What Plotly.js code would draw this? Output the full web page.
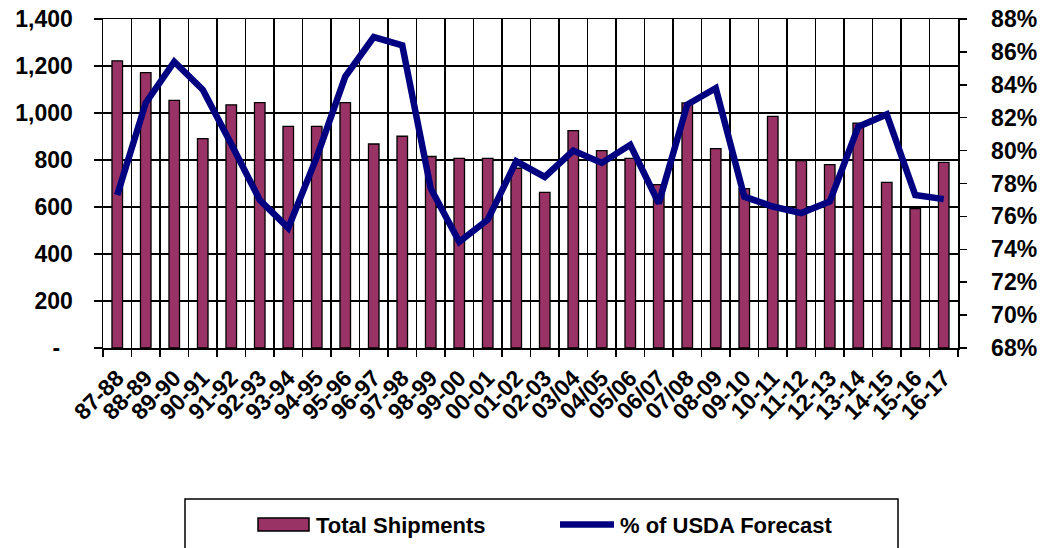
<!DOCTYPE html>
<html>
<head>
<meta charset="utf-8">
<script src="https://cdn.plot.ly/plotly-3.0.1.min.js"></script>
<style>
  html, body { margin: 0; padding: 0; background: #ffffff; }
  #chart { width: 1042px; height: 548px; }
</style>
</head>
<body>
<div id="chart"></div>
<script>
// ---- data ----
const seasons = ["87-88","88-89","89-90","90-91","91-92","92-93","93-94","94-95","95-96","96-97",
                 "97-98","98-99","99-00","00-01","01-02","02-03","03/04","04/05","05/06","06/07",
                 "07/08","08-09","09-10","10-11","11-12","12-13","13-14","14-15","15-16","16-17"];
const totalShipments = [1222,1172,1054,891,1035,1044,943,943,1044,868,
                        901,815,807,807,765,662,925,840,807,695,
                        1043,848,678,986,797,780,957,705,593,790];
const pctOfForecast = [77.3,82.9,85.4,83.7,80.4,77.0,75.3,79.6,84.5,86.9,
                       86.4,77.7,74.45,75.8,79.35,78.4,80.0,79.25,80.35,76.8,
                       82.8,83.8,77.2,76.6,76.2,76.9,81.45,82.2,77.3,77.05];
const leftTickVals = [0,200,400,600,800,1000,1200,1400];
const leftTickText = ["-\u00a0\u00a0","200","400","600","800","1,000","1,200","1,400"];
const rightTickVals = [68,70,72,74,76,78,80,82,84,86,88];
const rightTickText = ["68%","70%","72%","74%","76%","78%","80%","82%","84%","86%","88%"];
const legendNames = ["Total Shipments","% of USDA Forecast"];

// ---- styling ----
const BAR_COLOR = "#993366";
const LINE_COLOR = "#000080";
const FONT = "Liberation Sans, Arial, sans-serif";

const W = 1042, H = 548;
const M = {l: 103, r: 84, t: 19, b: 200};
const PW = W - M.l - M.r, PH = H - M.t - M.b;
const px = x => (x - M.l) / PW;          // pixel -> paper x
const py = y => (H - M.b - y) / PH;      // pixel -> paper y

const traces = [
  {
    type: "bar",
    x: seasons,
    y: totalShipments,
    name: legendNames[0],
    width: 0.37,
    marker: {color: BAR_COLOR, line: {color: "#000000", width: 1.3}},
    yaxis: "y",
    hoverinfo: "x+y"
  },
  {
    type: "scatter",
    mode: "lines",
    x: seasons,
    y: pctOfForecast,
    name: legendNames[1],
    line: {color: LINE_COLOR, width: 6.5},
    yaxis: "y2",
    hoverinfo: "x+y"
  }
];

const tickFont = {family: FONT, size: 23, color: "#000000", weight: "bold"};

const layout = {
  width: W, height: H,
  margin: M,
  paper_bgcolor: "#ffffff",
  plot_bgcolor: "#ffffff",
  showlegend: false,
  font: {family: FONT, color: "#000000"},
  xaxis: {
    type: "category",
    tickson: "boundaries",
    showgrid: true, gridcolor: "#000000", gridwidth: 1.3,
    showline: true, linecolor: "#000000", linewidth: 1.5, mirror: true,
    ticks: "outside", ticklen: 7, tickcolor: "#000000", tickwidth: 1.5,
    tickangle: -45,
    tickfont: {family: FONT, size: 23, color: "#000000", weight: "bold"},
    ticklabelstandoff: 6,
    range: [-0.5, seasons.length - 0.5],
    fixedrange: true
  },
  yaxis: {
    range: [0, 1400],
    tickvals: leftTickVals,
    ticktext: leftTickText,
    showgrid: true, gridcolor: "#000000", gridwidth: 1.3,
    zeroline: false,
    showline: true, linecolor: "#000000", linewidth: 1.5,
    ticks: "outside", ticklen: 8, tickcolor: "#000000", tickwidth: 1.5,
    tickfont: tickFont,
    ticklabelstandoff: 16,
    fixedrange: true
  },
  yaxis2: {
    overlaying: "y",
    side: "right",
    range: [68, 88],
    tickvals: rightTickVals,
    ticktext: rightTickText,
    showgrid: false,
    zeroline: false,
    showline: true, linecolor: "#000000", linewidth: 1.5,
    ticks: "outside", ticklen: 7, tickcolor: "#000000", tickwidth: 1.5,
    tickfont: tickFont,
    ticklabelstandoff: 20,
    fixedrange: true
  },
  shapes: [
    // legend frame
    {type: "rect", xref: "paper", yref: "paper",
     x0: px(185), x1: px(898), y0: py(499), y1: py(570),
     line: {color: "#000000", width: 1.5}, fillcolor: "rgba(0,0,0,0)"},
    // legend swatch: bars
    {type: "rect", xref: "paper", yref: "paper",
     x0: px(258), x1: px(309), y0: py(518), y1: py(531),
     line: {color: "#000000", width: 1.5}, fillcolor: BAR_COLOR},
    // legend swatch: line
    {type: "line", xref: "paper", yref: "paper",
     x0: px(560), x1: px(614), y0: py(524.5), y1: py(524.5),
     line: {color: LINE_COLOR, width: 6.5}}
  ],
  annotations: [
    {xref: "paper", yref: "paper", x: px(314), y: py(525), text: legendNames[0],
     showarrow: false, xanchor: "left", yanchor: "middle",
     font: {family: FONT, size: 22, color: "#000000", weight: "bold"}},
    {xref: "paper", yref: "paper", x: px(618), y: py(525), text: legendNames[1],
     showarrow: false, xanchor: "left", yanchor: "middle",
     font: {family: FONT, size: 22, color: "#000000", weight: "bold"}}
  ]
};

Plotly.newPlot("chart", traces, layout, {staticPlot: true, displayModeBar: false});
</script>
</body>
</html>
